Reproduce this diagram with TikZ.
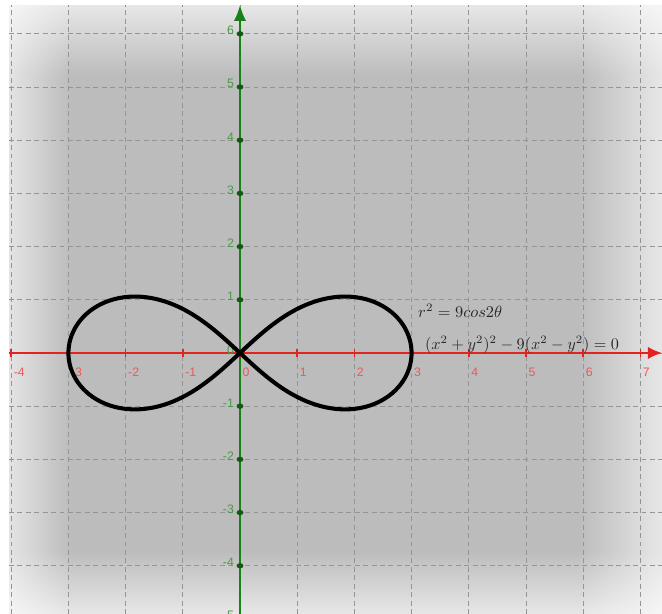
\documentclass[tikz,border=0pt]{standalone}
\usepackage{fontspec}
\newfontfamily\tickfont{Liberation Sans}
\usetikzlibrary{arrows.meta,fadings}
\definecolor{bggray}{HTML}{BCBCBC}
\definecolor{gridgray}{HTML}{959595}
\definecolor{axred}{HTML}{E2231F}
\definecolor{axgreen}{HTML}{1A801A}
\tikzfading[name=fade right, left color=transparent!0, right color=transparent!100]
\tikzfading[name=fade left, left color=transparent!100, right color=transparent!0]
\tikzfading[name=fade down, top color=transparent!0, bottom color=transparent!100]
\tikzfading[name=fade up, top color=transparent!100, bottom color=transparent!0]
\begin{document}
\begin{tikzpicture}[x=1.144cm, y=1.064cm,
    gridline/.style={gridgray, line width=0.5pt, dash pattern=on 2.8pt off 2pt},
    xlab/.style={text=axred!75!white, font=\tickfont\fontsize{7}{8}\selectfont, inner sep=0pt},
    ylab/.style={text=axgreen!80!white, font=\tickfont\fontsize{7}{8}\selectfont, inner sep=0pt}]
    \useasboundingbox (-4.196,-4.906) rectangle (7.378,6.635);
    \clip (-4.196,-4.906) rectangle (7.378,6.635);
    \fill[bggray] (-4.04,-4.906) rectangle (7.378,6.54);
    \fill[white, opacity=0.6, path fading=fade right] (-4.04,-4.906) rectangle (-2.95,6.54);
    \fill[white, opacity=0.65, path fading=fade left] (5.9,-4.906) rectangle (7.378,6.54);
    \fill[white, opacity=0.65, path fading=fade down] (-4.04,5.2) rectangle (7.378,6.54);
    \fill[white, opacity=0.65, path fading=fade up] (-4.04,-4.906) rectangle (7.378,-3.7);
    \foreach \x in {-4,...,7}
      \draw[gridline] (\x,-4.906) -- (\x,6.54);
    \foreach \y in {-4,...,6}
      \draw[gridline] (-4.04,\y) -- (7.378,\y);
    \draw[axred, line width=1.1pt, -{Latex[length=8pt,width=7pt]}] (-4.04,0) -- (7.378,0);
    \draw[axgreen, line width=1.1pt, -{Latex[length=9pt,width=7pt]}] (0,-4.906) -- (0,6.54);
    \foreach \x in {-4,...,7}
      \draw[axred, line width=1pt] (\x,0.075) -- (\x,-0.075) node[xlab, anchor=north west] (xl\x) at (\x+0.03,-0.27) {\x};
    \foreach \y in {-5,...,6}
      \fill[axgreen!70!black] (0,\y) ellipse (0.06 and 0.05) node[ylab, anchor=east] (yl\y) at (-0.1,\y+0.06) {\y};
    \draw[line width=2.3pt, smooth, samples=240, domain=0:360, variable=\t]
      plot ({3*cos(\t)/(1+sin(\t)*sin(\t))}, {3*sin(\t)*cos(\t)/(1+sin(\t)*sin(\t))});
    \node[anchor=base west, text=black!85, inner sep=0pt, scale=0.93] (polar) at (3.11,0.66) {$r^2=9cos2\theta$};
    \node[anchor=base west, text=black!85, inner sep=0pt, scale=0.92] (cartesian) at (3.23,0.06) {$(x^2+y^2)^2-9(x^2-y^2)=0$};
\end{tikzpicture}
\end{document}
